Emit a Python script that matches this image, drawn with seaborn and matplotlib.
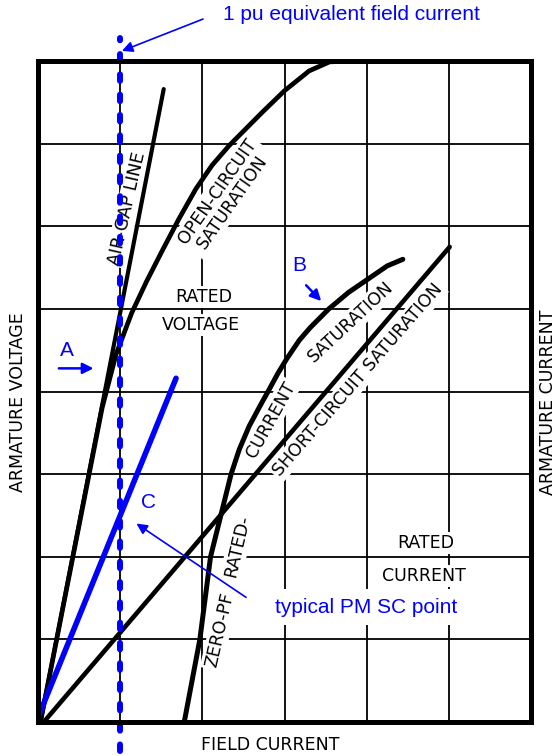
import numpy as np
import pandas as pd
import matplotlib
matplotlib.use("Agg")
import matplotlib.pyplot as plt
import seaborn as sns

# ---------------- data (grid units: field current 0..6, armature 0..8) -------------
air_gap_x = [0.03, 1.53]
air_gap_y = [0.0, 7.66]

oc_x = [0.03, 0.78, 0.95, 1.14, 1.32, 1.51, 1.71, 1.92, 2.12, 2.33, 2.73, 3.00, 3.30, 3.55, 3.85]
oc_y = [0.00, 3.80, 4.45, 4.95, 5.33, 5.70, 6.08, 6.45, 6.74, 6.98, 7.38, 7.64, 7.88, 7.99, 8.00]

zpf_x = [1.78, 1.97, 2.10, 2.35, 2.45, 2.57, 2.71, 2.80, 2.92, 3.03, 3.18, 3.31, 3.54, 3.78, 4.03, 4.25, 4.44]
zpf_y = [0.00, 1.00, 2.00, 3.00, 3.30, 3.58, 3.84, 4.00, 4.22, 4.40, 4.62, 4.77, 5.00, 5.20, 5.37, 5.52, 5.60]

sc_x = [0.07, 5.01]
sc_y = [0.00, 5.75]

pm_x = [0.01, 1.68]
pm_y = [0.08, 4.16]

pu_x = [1.0, 1.0]
pu_y = [-0.35, 8.28]

x_grid = [0, 1, 2, 3, 4, 5, 6]
y_grid = [0, 1, 2, 3, 4, 5, 6, 7, 8]

def frame(x, y, name):
    return pd.DataFrame({"x": x, "y": y, "curve": name})

df = pd.concat([
    frame(air_gap_x, air_gap_y, "air"),
    frame(oc_x, oc_y, "oc"),
    frame(zpf_x, zpf_y, "zpf"),
    frame(sc_x, sc_y, "sc"),
])

sns.set_theme(style="white")
plt.rcParams["font.family"] = ["DejaVu Sans"]

W, H = 556, 756
fig = plt.figure(figsize=(W / 100, H / 100), dpi=100)
fig.patch.set_facecolor("white")
L, R, T, B = 38, 531, 61, 722
ax = fig.add_axes([L / W, 1 - B / H, (R - L) / W, (B - T) / H])

widths = {"air": 3.0, "oc": 3.4, "zpf": 3.6, "sc": 3.3}
for name, sub in df.groupby("curve", sort=False):
    sns.lineplot(data=sub, x="x", y="y", ax=ax, sort=False, estimator=None,
                 color="black", linewidth=widths[name], zorder=4,
                 solid_capstyle="round", solid_joinstyle="round", legend=False)

sns.lineplot(x=pm_x, y=pm_y, ax=ax, sort=False, estimator=None, color="#0000ff",
             linewidth=4.0, zorder=5, solid_capstyle="round")
sns.lineplot(x=pu_x, y=pu_y, ax=ax, sort=False, estimator=None, color="#0000ff",
             linewidth=4.3, zorder=5)
line = ax.lines[-1]
line.set_linestyle((0, (1.1, 2.3)))
line.set_dash_capstyle("round")
line.set_clip_on(False)

ax.set_xlim(x_grid[0], x_grid[-1])
ax.set_ylim(y_grid[0], y_grid[-1])
ax.set_xticks(x_grid)
ax.set_yticks(y_grid)
ax.set_xticklabels([])
ax.set_yticklabels([])
ax.tick_params(length=0)
ax.grid(True, color="black", linewidth=1.3, zorder=0)
ax.set_axisbelow(True)
for s in ax.spines.values():
    s.set_color("black")
    s.set_linewidth(3.6)
    s.set_zorder(6)
ax.set_xlabel("")
ax.set_ylabel("")

# ---------------- black labels ----------------
bb = dict(facecolor="white", edgecolor="none", pad=1.5)
lab = dict(color="black", fontsize=12.5, ha="center", va="center",
           rotation_mode="anchor", zorder=3, bbox=bb)
ax.text(1.09, 6.22, "AIR-GAP LINE", rotation=77, **lab)
ax.text(2.27, 6.36, "OPEN-CIRCUIT\nSATURATION", rotation=55, linespacing=1.0,
        multialignment="center", **lab)
ax.text(2.02, 5.14, "RATED", **lab)
ax.text(1.98, 4.80, "VOLTAGE", **lab)
ax.text(3.81, 4.84, "SATURATION", rotation=43, **lab)
ax.text(2.83, 3.66, "CURRENT", rotation=61, **lab)
ax.text(2.43, 2.13, "RATED-", rotation=77, **lab)
ax.text(2.21, 1.11, "ZERO-PF", rotation=77, **lab)
ax.text(3.89, 4.14, "SHORT-CIRCUIT SATURATION", rotation=49, **lab)
ax.text(4.72, 2.17, "RATED", **lab)
ax.text(4.70, 1.77, "CURRENT", **lab)

fig.text(18 / W, 1 - 402 / H, "ARMATURE VOLTAGE", rotation=90, ha="center",
         va="center", fontsize=12.5, color="black")
fig.text(548 / W, 1 - 402 / H, "ARMATURE CURRENT", rotation=90, ha="center",
         va="center", fontsize=12.5, color="black")
fig.text(270 / W, 1 - 745 / H, "FIELD CURRENT", ha="center", va="center",
         fontsize=12.5, color="black")

# ---------------- blue annotations ----------------
blue = "#0000ff"
bf = dict(color=blue, fontsize=15, family=["Liberation Sans", "DejaVu Sans"])
arr = dict(arrowstyle="-|>", color=blue, lw=1.2, mutation_scale=16)
ax.annotate("", xy=(0.99, 8.11), xytext=(2.04, 8.52), arrowprops=arr,
            annotation_clip=False, zorder=7)
ax.text(2.25, 8.56, "1 pu equivalent field current", ha="left", va="center",
        clip_on=False, **bf)
ax.text(0.35, 4.50, "A", ha="center", va="center", **bf)
ax.annotate("", xy=(0.71, 4.28), xytext=(0.22, 4.28),
            arrowprops=dict(arr, lw=1.8), zorder=7)
ax.text(3.18, 5.53, "B", ha="center", va="center", **bf)
ax.annotate("", xy=(3.47, 5.07), xytext=(3.24, 5.31),
            arrowprops=dict(arr, lw=1.8), zorder=7)
ax.text(1.35, 2.66, "C", ha="center", va="center", **bf)
ax.annotate("", xy=(1.17, 2.42), xytext=(2.56, 1.49), arrowprops=arr, zorder=7)
ax.text(3.99, 1.39, "typical PM SC point", ha="center", va="center", zorder=3,
        bbox=dict(facecolor="white", edgecolor="none", pad=6), **bf)

fig.savefig("out.png", dpi=100, facecolor="white")
